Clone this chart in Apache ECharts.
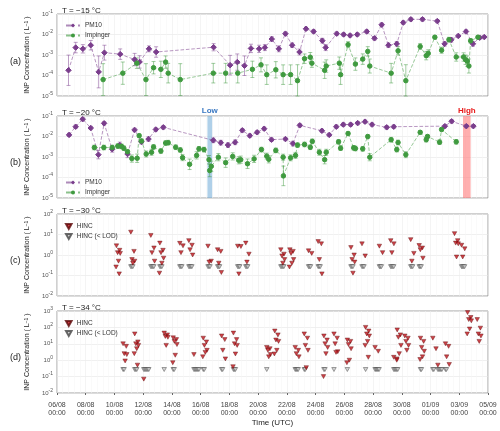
<!DOCTYPE html>
<html><head><meta charset="utf-8">
<script src="https://cdn.jsdelivr.net/npm/echarts@6/dist/echarts.min.js"></script>
<style>html,body{margin:0;padding:0;background:#fff}#c{width:500px;height:431px}</style>
</head><body><div id="c"></div>
<script>
const tickLabels=['06/08','08/08','10/08','12/08','14/08','16/08','18/08','20/08','22/08','24/08','26/08','28/08','30/08','01/09','03/09','05/09'];
// Panel (a) T=-15: [day, value, errorFactor]
const pmA=[[0.8,1.8e-4,5.5],[1.3,2.3e-3,1.8],[1.8,2.0e-3,1.6],[2.35,3e-3,1.7],[2.9,1.5e-4,6],[3.3,1.3e-3,2.3],[4.4,1.1e-3,1.8],[5.4,6e-4,2],[5.75,4.6e-4,2],[6.4,2e-3,1.4],[6.9,1.4e-3,1.8],[10.9,2.4e-3,1.5],[12.05,3.2e-4,3],[12.55,4.5e-4,2.5],[13.05,3e-4,3],[13.5,2.1e-3,1.6],[14.07,2e-3,1.5],[14.47,2.3e-3,1.4],[14.95,6e-3,1.3],[15.44,2e-3,1.4],[15.9,1.1e-2,1.2],[16.37,3e-3,1.3],[16.88,1.4e-3,1.4],[17.33,1.9e-2,1.2],[17.86,1.4e-2,1.2],[18.47,5e-3,1.3],[18.7,2.3e-3,1.4],[19.47,1.1e-2,1.2],[19.95,1.0e-2,1.2],[20.4,9e-3,1.2],[20.9,1.0e-2,1.2],[21.56,1.4e-2,1.2],[22.1,6.5e-3,1.2],[22.6,3e-2,1.2],[23.07,3e-3,1.3],[23.65,3.5e-3,1.3],[24.1,3.8e-2,1.2],[24.63,5.5e-2,1.2],[25.44,5.5e-2,1.2],[26.47,4.5e-2,1.2],[26.98,3.5e-3,1.3],[27.44,5.5e-3,1.3],[27.93,8.5e-3,1.2],[28.47,1.4e-2,1.2],[28.95,3.5e-3,1.3],[29.42,7e-3,1.2],[29.74,7.5e-3,1.2]];
const impA=[[3.21,6.3e-5,6],[4.58,1.3e-4,3.5],[5.56,4e-4,1.8],[6.19,6.3e-5,6],[6.72,2.4e-4,2],[7.23,2e-4,2.5],[7.56,4.5e-4,2],[7.74,1.3e-4,3],[8.58,6.3e-5,6],[10.88,1.3e-4,3],[11.74,1.3e-4,3],[12.58,1.3e-4,3],[13.6,2e-4,2.5],[14.2,3.3e-4,2.2],[14.6,1.1e-4,3],[15.23,1.9e-4,2.5],[15.74,1.1e-4,3],[16.26,1.1e-4,3],[16.74,5.6e-5,6],[17.23,6.6e-4,1.7],[17.63,7.8e-4,1.7],[17.74,4e-4,1.6],[18.63,1.8e-4,2.5],[18.74,2.9e-4,2],[19.65,4e-4,2],[19.74,1.1e-4,3],[20.26,3.2e-3,1.4],[20.77,3.6e-4,2],[21.28,6.3e-4,1.8],[21.63,1.5e-3,1.7],[21.77,2.9e-4,2.2],[23.26,1.3e-4,3],[23.74,1.6e-3,1.6],[24.28,5.6e-5,6],[25.28,2.6e-3,1.4],[25.7,9.3e-4,1.6],[25.84,1.2e-3,1.5],[26.3,7.4e-3,1.2],[26.77,1.7e-3,1.4],[27.28,5.6e-3,1.3],[27.79,8e-4,1.6],[28.3,8e-4,1.6],[28.44,5.9e-4,1.7],[28.56,5e-4,1.8],[28.67,2.9e-4,2.2],[28.79,4.9e-3,1.3],[29.3,7.4e-3,1.2]];
// Panel (b) T=-20
const pmB=[[0.84,1.2e-2,1.2],[1.3,3e-2,1.2],[1.79,7e-2,1.2],[2.35,2.6e-2,1.2],[2.88,1.3e-3,1.6],[3.28,4.4e-2,1.2],[3.84,2.4e-3,1.4],[4.37,3.8e-3,1.4],[4.91,1.4e-3,1.5],[5.4,2.1e-2,1.2],[5.88,5.5e-3,1.3],[6.37,7.5e-3,1.3],[6.88,2.2e-2,1.2],[7.4,2.8e-2,1.2],[10.88,6.5e-3,1.3],[11.4,5e-3,1.3],[11.9,3.8e-3,1.3],[12.4,5.2e-3,1.3],[12.9,2e-2,1.2],[13.42,1.1e-2,1.2],[13.93,1.6e-2,1.2],[14.42,2.4e-2,1.2],[14.93,7e-3,1.2],[15.9,7.5e-3,1.2],[16.42,4.5e-3,1.3],[16.9,3.5e-2,1.2],[18.44,1.9e-2,1.2],[18.95,1.2e-2,1.2],[19.44,3e-2,1.2],[19.93,3.8e-2,1.2],[20.44,3.8e-2,1.2],[20.93,4.5e-2,1.2],[21.44,5.3e-2,1.2],[21.93,3.8e-2,1.2],[22.95,2.8e-2,1.2],[23.44,3e-2,1.2],[27.0,3.2e-2,1.2],[27.47,5.5e-2,1.2],[28.49,3.2e-2,1.2],[28.98,3.2e-2,1.2]];
const impB=[[2.6,2.9e-3,1.3],[3.26,2.9e-3,1.3],[3.84,2.9e-3,1.3],[4.23,3.4e-3,1.3],[4.49,3.3e-3,1.3],[4.65,2.7e-3,1.3],[4.91,1.8e-3,1.3],[5.21,8.4e-4,1.5],[5.58,8.7e-4,1.6],[5.72,1.1e-2,1.2],[5.88,6e-3,1.3],[6.21,1.4e-3,1.4],[6.58,1.7e-3,1.4],[6.72,3.1e-3,1.3],[7.23,1.95e-3,1.3],[7.56,4.8e-3,1.3],[7.74,5e-3,1.3],[8.26,3e-3,1.3],[8.58,2.2e-3,1.3],[8.74,9.3e-4,1.4],[9.23,4.4e-4,1.8],[9.72,1.2e-3,1.5],[9.88,2.5e-3,1.3],[10.23,2.3e-3,1.3],[10.58,7.4e-4,1.6],[10.63,2.2e-4,2],[10.74,3.5e-4,1.8],[11.23,9.8e-4,1.5],[11.74,5.3e-4,1.7],[12.23,1.07e-3,1.5],[12.65,6.9e-4,1.5],[12.79,7.4e-4,1.5],[13.26,4.7e-4,1.7],[13.72,8.1e-4,1.5],[14.23,2.3e-3,1.3],[14.6,1.1e-3,1.4],[14.74,7.7e-4,1.5],[15.23,2.1e-3,1.3],[15.74,9.8e-4,1.4],[15.76,1.2e-4,3],[16.26,9.1e-4,1.4],[16.6,1.2e-3,1.4],[16.74,3.8e-3,1.3],[17.23,4.1e-3,1.3],[17.63,3e-3,1.3],[17.77,5.8e-3,1.3],[18.26,1.7e-3,1.4],[18.63,7.4e-4,1.6],[18.74,1.7e-3,1.4],[19.6,5.5e-3,1.3],[19.74,2.7e-3,1.3],[20.26,1.4e-2,1.2],[20.65,2.8e-3,1.3],[20.77,2.6e-3,1.3],[21.28,2.5e-3,1.3],[21.63,1e-2,1.2],[21.77,9.8e-4,1.5],[23.26,7e-3,1.3],[23.65,2.3e-3,1.3],[23.74,5.1e-3,1.3],[24.28,1.3e-3,1.4],[25.28,1.6e-2,1.2],[25.7,7e-3,1.3],[25.79,1e-2,1.2],[26.63,5.3e-3,1.3],[26.77,2.2e-2,1.2],[27.79,5.5e-3,1.3]];
const lowBand=[10.47,10.8];
const highBand=[28.26,28.79];
// Panel (c) T=-30 HINC clusters: day, detected values, number of <LOD points
const cDays=[4.26,5.26,6.65,7.28,8.67,9.3,10.63,11.3,12.7,13.26,15.7,16.33,17.63,18.3,20.58,21.35,22.56,23.35,24.74,25.33,27.79,28.28];
const cVals=[[2.8,1.7,1.3,1.2,0.5,0.26,0.12],[13,1.5,0.6,0.5,0.4],[9,2.2,1.3,0.5],[3.8,1.7,1.3,0.7,0.4,0.13],[3.7,2.8,1.3],[5,3,1.8,1],[2.7,0.5,0.45],[1.8,1.5,0.4,0.14],[2.7,2.6,0.12],[3.8,1.1,0.45],[1.8,1.1,0.9,0.6,0.4],[1.8,1.5,1.2,0.6,0.4,0.26],[1.6,1.2],[4.5,3.5,0.6,0.12],[2.3,1,0.6,0.45,0.13],[3.5,0.9],[2.7,1.3],[5,3.5,1.3],[5.6,1.2,0.5],[2.9,2.2,1.8,0.7],[11,5,3.8,3.5,0.8],[3,2,0.8]];
const cLod=[0,3,4,3,3,4,3,3,3,3,4,0,3,3,3,3,3,4,3,3,0,4];
// Panel (d) T=-34
const dDays=[4.72,5.53,6.16,7.58,8.21,9.65,10.3,11.58,12.4,14.72,15.28,16.7,17.33,18.7,19.4,20.33,21.6,22.26,23.56,23.8,24.33,25.42,26.28,26.63,27.16,28.7,29.37];
const dVals=[[10,7,2.5,2.2,0.9],[40,13,10,8,5,2.5,0.5],[0.07],[45,35,28,25,8],[23,18,14,9,2,0.7],[2.2],[22,13,8,4,3,1.6],[30,18,4,1.2],[45,18,10,8,2.4,0.4],[6,5,4,2.2,1.6],[60,35,17,14,4,2.4],[6,4,2.5,1.6],[40,22,8,4,0.35],[30,17,10,6,2.5,0.1],[40,22,10,3.3,3],[17,14,9,5,1,0.7],[100,60,40,30,14,8,1.5],[6,3.5],[1.5,1.2],[70,35,25,8,2.5,1],[30,22,14,8,4],[22,14,6,3.5,1.6,1.1],[22,5],[0.5],[10,7,1.6,0.55],[800,400,300,250,80,40],[300,90,40,30,14]];
const dLod=[2,3,6,1,2,6,2,2,3,1,0,4,2,2,1,1,1,5,5,0,0,2,2,5,2,0,0];
const lodValue=0.27;

const purple='#7a3d8c', green='#3f9a3f', red='#c0141c';
const invTri='path://M0,0 L10,0 L5,9 Z';
const grids=[{top:14},{top:116},{top:214},{top:311}].map(g=>({left:57,right:12,height:82,top:g.top,show:true,borderColor:'#888',borderWidth:0.8}));
const yRanges=[[1e-5,1e-1],[1e-5,1e-1],[1e-2,1e2],[1e-2,1e3]];
const xAxes=grids.map((g,i)=>({type:'value',gridIndex:i,min:0,max:30,interval:2,
 axisLine:{show:false},axisTick:{show:i===3,length:2,lineStyle:{color:'#666'}},
 splitLine:{show:true,lineStyle:{color:'#ececec',width:0.6}},
 minorTick:{show:false},minorSplitLine:{show:true,lineStyle:{color:'#f4f4f4',width:0.5}},
 axisLabel:{show:i===3,fontSize:7,color:'#444',lineHeight:8,formatter:v=>tickLabels[Math.round(v/2)]+'\n00:00'},
 name:i===3?'Time (UTC)':'',nameLocation:'middle',nameGap:26,nameTextStyle:{fontSize:8,color:'#222'}}));
const yAxes=yRanges.map((r,i)=>({type:'log',gridIndex:i,min:r[0],max:r[1],logBase:10,
 axisLine:{show:false},axisTick:{show:false},splitLine:{show:true,lineStyle:{color:'#e6e6e6',width:0.6}},
 axisLabel:{fontSize:6,color:'#555',margin:4,formatter:v=>{const e=Math.round(Math.log10(v));return '10{s|'+e+'}';},rich:{s:{fontSize:5,verticalAlign:'top',padding:[0,0,5,0]}}},
 name:'INP Concentration ( L{s|−1} )',nameLocation:'middle',nameGap:24,nameRotate:90,
 nameTextStyle:{fontSize:7,color:'#222',rich:{s:{fontSize:5,verticalAlign:'top'}}}}));

function errSeries(data,idx,color){
 return {type:'custom',xAxisIndex:idx,yAxisIndex:idx,silent:true,z:2,
  data:data.map(d=>[d[0],Math.max(d[1]/d[2],yRanges[idx][0]),d[1]*d[2]]),
  renderItem:(p,api)=>{const a=api.coord([api.value(0),api.value(1)]),b=api.coord([api.value(0),api.value(2)]);
   const st={stroke:color,lineWidth:0.9,opacity:0.55};
   return {type:'group',children:[{type:'line',shape:{x1:a[0],y1:a[1],x2:b[0],y2:b[1]},style:st},
    {type:'line',shape:{x1:a[0]-2,y1:a[1],x2:a[0]+2,y2:a[1]},style:st},
    {type:'line',shape:{x1:b[0]-2,y1:b[1],x2:b[0]+2,y2:b[1]},style:st}]};}};
}
function lineSeries(name,data,idx,color,sym){
 return {type:'line',name:name,xAxisIndex:idx,yAxisIndex:idx,data:data.map(d=>[d[0],d[1]]),
  symbol:sym,symbolSize:sym==='circle'?4.5:5.5,itemStyle:{color:color,borderColor:color},
  lineStyle:{type:'dashed',width:0.9,color:color,opacity:0.6},z:3};
}
function hincSeries(days,vals,lods,idx){
 const det=[],lod=[];
 const off=[-0.12,0.1,-0.04,0.14,0.02,-0.15,0.07];
 days.forEach((d,i)=>{vals[i].forEach((v,j)=>det.push([d+off[j%7],v]));
  for(let k=0;k<lods[i];k++)lod.push([d-0.12+k*0.07,lodValue]);});
 return [
  {type:'scatter',name:'HINC (< LOD)',xAxisIndex:idx,yAxisIndex:idx,data:lod,symbol:invTri,symbolSize:[4.5,4],
   itemStyle:{color:'#c8c8c8',borderColor:'#444',borderWidth:0.6}},
  {type:'scatter',name:'HINC',xAxisIndex:idx,yAxisIndex:idx,data:det,symbol:invTri,symbolSize:[4.5,4],
   itemStyle:{color:red,borderColor:'#5a0808',borderWidth:0.5},z:4}];
}
const series=[
 errSeries(pmA,0,purple),errSeries(impA,0,green),lineSeries('PM10',pmA,0,purple,'diamond'),lineSeries('Impinger',impA,0,green,'circle'),
 errSeries(pmB,1,purple),errSeries(impB,1,green),
 Object.assign(lineSeries('PM10',pmB,1,purple,'diamond'),{markArea:{silent:true,data:[
   [{xAxis:lowBand[0],itemStyle:{color:'rgba(110,170,215,0.55)'},label:{show:true,position:'top',formatter:'Low',color:'#3a78c2',fontSize:8,fontWeight:'bold',distance:1}},{xAxis:lowBand[1]}],
   [{xAxis:highBand[0],itemStyle:{color:'rgba(255,110,110,0.55)'},label:{show:true,position:'top',formatter:'High',color:'#e81818',fontSize:8,fontWeight:'bold',distance:1}},{xAxis:highBand[1]}]]}}),
 lineSeries('Impinger',impB,1,green,'circle'),
 ...hincSeries(cDays,cVals,cLod,2),...hincSeries(dDays,dVals,dLod,3)
];
const legendBase={itemWidth:14,itemHeight:5,itemGap:3,orient:'vertical',textStyle:{fontSize:6.5,color:'#333'},selectedMode:false};
const legends=[
 Object.assign({},legendBase,{left:60,top:17,data:['PM10','Impinger']}),
 Object.assign({},legendBase,{left:60,top:174,data:['PM10','Impinger']}),
 Object.assign({},legendBase,{left:60,top:218,itemWidth:6,itemHeight:5,data:['HINC','HINC (< LOD)']}),
 Object.assign({},legendBase,{left:60,top:315,itemWidth:6,itemHeight:5,data:['HINC','HINC (< LOD)']})];
const titles=[['T = −15 °C',2],['T = −20 °C',104],['T = −30 °C',202],['T = −34 °C',299]].map(t=>({text:t[0],left:57,top:t[1],textStyle:{fontSize:8,fontWeight:'normal',color:'#222'}}));
const panelLabels=[['(a)',57],['(b)',158],['(c)',256],['(d)',353]].map(t=>({type:'text',left:10,top:t[1],style:{text:t[0],fontSize:9,fill:'#222'}}));
const chart=echarts.init(document.getElementById('c'));
chart.setOption({animation:false,title:titles,legend:legends,grid:grids,xAxis:xAxes,yAxis:yAxes,series:series,graphic:panelLabels});
</script></body></html>
